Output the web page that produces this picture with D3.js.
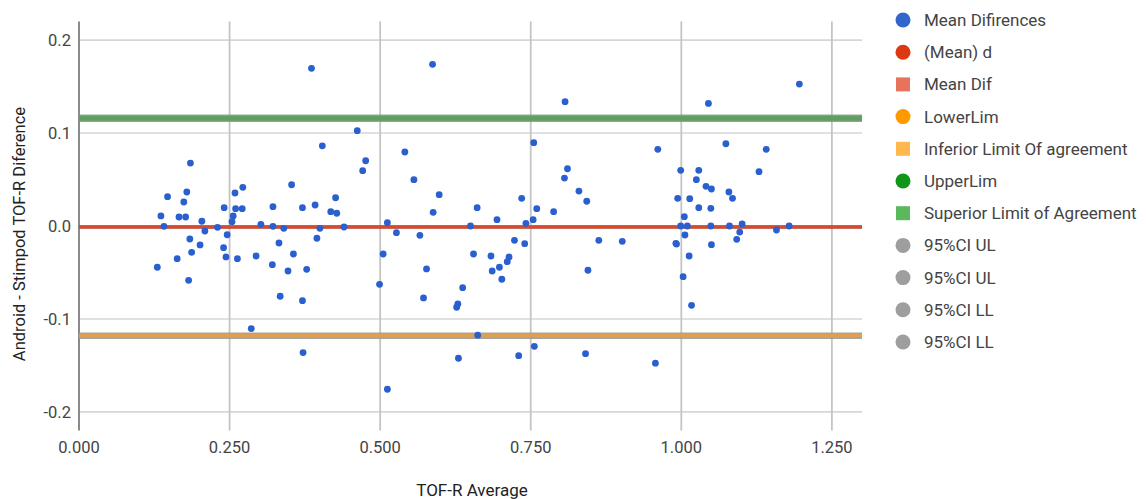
<!DOCTYPE html>
<html>
<head>
<meta charset="utf-8">
<script src="https://cdn.jsdelivr.net/npm/d3@7"></script>
<style>
  html, body { margin: 0; padding: 0; background: #fff; }
  svg { display: block; font-family: Roboto, "Noto Sans", sans-serif; }
</style>
</head>
<body>
<svg id="chart" width="1146" height="499"></svg>
<script>
// ---- data ----
const avgValues = [
  0.185,0.147,0.179,0.174,0.136,0.141,0.166,0.177,0.184,0.187,0.163,0.130,0.182,0.204,0.209,0.201,0.230,0.241,0.259,0.272,0.260,0.271,0.256,0.254,0.246,0.240,0.244,0.263,0.294,0.302,0.286,
  0.386,0.462,0.404,0.541,0.476,0.471,0.556,0.353,0.426,0.322,0.371,0.392,0.418,0.428,0.322,0.340,0.400,0.440,0.512,0.527,0.566,0.332,0.395,0.356,0.321,0.347,0.378,0.505,0.577,0.499,0.334,0.371,0.572,0.372,0.512,
  0.587,0.807,0.755,0.811,0.806,0.830,0.843,0.598,0.588,0.661,0.735,0.760,0.788,0.694,0.754,0.742,0.650,0.723,0.740,0.655,0.684,0.714,0.711,0.698,0.686,0.702,0.637,0.629,0.627,0.845,0.662,0.630,0.730,0.756,0.841,
  1.045,0.961,0.999,1.029,1.025,1.041,1.050,0.994,1.014,1.029,1.049,1.005,0.999,1.010,1.049,1.006,0.991,0.992,0.863,0.902,1.050,1.013,1.003,1.017,0.957,
  1.196,1.074,1.141,1.129,1.079,1.085,1.080,1.101,1.097,1.092,1.158,1.179
];
const diffValues = [
  0.0677,0.0315,0.0366,0.0258,0.0108,-0.0003,0.0097,0.0097,-0.0140,-0.0283,-0.0352,-0.0444,-0.0584,0.0051,-0.0054,-0.0204,-0.0014,0.0197,0.0355,0.0416,0.0186,0.0186,0.0108,0.0046,-0.0094,-0.0233,-0.0333,-0.0352,-0.0323,0.0018,-0.1104,
  0.1696,0.1025,0.0863,0.0796,0.0702,0.0595,0.0498,0.0444,0.0304,0.0208,0.0197,0.0226,0.0154,0.0137,-0.0003,-0.0025,-0.0025,-0.0011,0.0035,-0.0072,-0.0100,-0.0183,-0.0132,-0.0301,-0.0416,-0.0484,-0.0466,-0.0301,-0.0462,-0.0627,-0.0756,-0.0803,-0.0774,-0.1362,-0.1756,
  0.1739,0.1337,0.0896,0.0616,0.0516,0.0376,0.0266,0.0337,0.0147,0.0197,0.0298,0.0186,0.0154,0.0068,0.0068,0.0029,0.0000,-0.0154,-0.0190,-0.0301,-0.0323,-0.0333,-0.0384,-0.0444,-0.0484,-0.0573,-0.0663,-0.0839,-0.0874,-0.0476,-0.1175,-0.1423,-0.1395,-0.1294,-0.1373,
  0.1319,0.0825,0.0599,0.0599,0.0498,0.0427,0.0398,0.0298,0.0294,0.0197,0.0190,0.0100,0.0000,0.0000,0.0000,-0.0097,-0.0186,-0.0194,-0.0154,-0.0165,-0.0201,-0.0323,-0.0545,-0.0853,-0.1476,
  0.1527,0.0885,0.0825,0.0584,0.0366,0.0298,0.0000,0.0022,-0.0065,-0.0143,-0.0043,0.0000
];
const meanDiff = -0.001;
const upperLimit = 0.116;
const lowerLimit = -0.118;

const xTicks = [0, 0.25, 0.5, 0.75, 1.0, 1.25];
const xTickLabels = ["0.000", "0.250", "0.500", "0.750", "1.000", "1.250"];
const yTicks = [-0.2, -0.1, 0, 0.1, 0.2];
const yTickLabels = ["-0.2", "-0.1", "0.0", "0.1", "0.2"];

const legendLabels = ["Mean Difirences", "(Mean) d", "Mean Dif", "LowerLim", "Inferior Limit Of agreement",
  "UpperLim", "Superior Limit of Agreement", "95%CI UL", "95%CI UL", "95%CI LL", "95%CI LL"];
const legendShapes = ["circle", "circle", "square", "circle", "square", "circle", "square", "circle", "circle", "circle", "circle"];
const legendColors = ["#3366cc", "#dc3912", "#e8735c", "#ff9900", "#ffb84d", "#109618", "#5cb85c", "#9e9e9e", "#9e9e9e", "#9e9e9e", "#9e9e9e"];

const xTitle = "TOF-R Average";
const yTitle = "Android - Stimpod TOF-R Diference";

(function () {
  // ---- layout ----
  const pLeft = 79, pRight = 862, pTop = 21.5, pBottom = 430.5;
  const svg = d3.select("#chart");

  const x = d3.scaleLinear().domain([0, 1.3]).range([pLeft, pRight]);
  const y = d3.scaleLinear().domain([-0.22, 0.22]).range([pBottom, pTop]);

  // horizontal gridlines
  svg.append("g").selectAll("line").data(yTicks).join("line")
    .attr("x1", pLeft).attr("x2", pRight)
    .attr("y1", d => y(d)).attr("y2", d => y(d))
    .attr("stroke", "#d6d6d6").attr("stroke-width", 1.6);

  // vertical gridlines
  svg.append("g").selectAll("line").data(xTicks.slice(1)).join("line")
    .attr("x1", d => x(d)).attr("x2", d => x(d))
    .attr("y1", pTop).attr("y2", pBottom)
    .attr("stroke", "#c4c4c4").attr("stroke-width", 1.8);

  // y axis line
  svg.append("line")
    .attr("x1", x(0)).attr("x2", x(0)).attr("y1", pTop).attr("y2", pBottom)
    .attr("stroke", "#8a8a8a").attr("stroke-width", 2);

  // tick labels
  svg.append("g").selectAll("text").data(yTicks).join("text")
    .attr("x", pLeft - 8).attr("y", d => y(d) + 6)
    .attr("text-anchor", "end").attr("font-size", 16.5).attr("fill", "#444")
    .text((d, i) => yTickLabels[i]);

  svg.append("g").selectAll("text").data(xTicks).join("text")
    .attr("x", d => x(d)).attr("y", 453)
    .attr("text-anchor", "middle").attr("font-size", 16.5).attr("fill", "#444")
    .text((d, i) => xTickLabels[i]);

  // axis titles
  svg.append("text").attr("x", 472).attr("y", 496)
    .attr("text-anchor", "middle").attr("font-size", 17).attr("fill", "#222")
    .text(xTitle);
  svg.append("text")
    .attr("transform", "translate(25,234) rotate(-90)")
    .attr("text-anchor", "middle").attr("font-size", 16.5).attr("fill", "#222")
    .text(yTitle);

  // limit lines
  const hline = (v, color, w, op) => svg.append("line")
    .attr("x1", pLeft).attr("x2", pRight).attr("y1", y(v)).attr("y2", y(v))
    .attr("stroke", color).attr("stroke-width", w).attr("stroke-opacity", op || 1);

  hline(upperLimit, "#8c968c", 7.5, 0.9);
  hline(upperLimit, "#5f9f5f", 5);
  hline(lowerLimit, "#9a9a9a", 6.5, 0.9);
  hline(lowerLimit, "#dea050", 3.2);
  hline(meanDiff, "#b83a22", 3.4);
  hline(meanDiff, "#e2502e", 1.6);

  // points
  svg.append("g").selectAll("circle").data(avgValues).join("circle")
    .attr("cx", d => x(d)).attr("cy", (d, i) => y(diffValues[i]))
    .attr("r", 3.4).attr("fill", "#2a5fd0");

  // legend
  const lg = svg.append("g");
  const ly = i => 20 + i * 32.2;
  legendLabels.forEach((lab, i) => {
    if (legendShapes[i] === "circle") {
      lg.append("circle").attr("cx", 903).attr("cy", ly(i)).attr("r", 7.5).attr("fill", legendColors[i]);
    } else {
      lg.append("rect").attr("x", 896).attr("y", ly(i) - 7).attr("width", 14).attr("height", 14).attr("fill", legendColors[i]);
    }
    lg.append("text").attr("x", 924).attr("y", ly(i) + 6)
      .attr("font-size", 17).attr("fill", "#444").text(lab);
  });
})();
</script>
</body>
</html>
